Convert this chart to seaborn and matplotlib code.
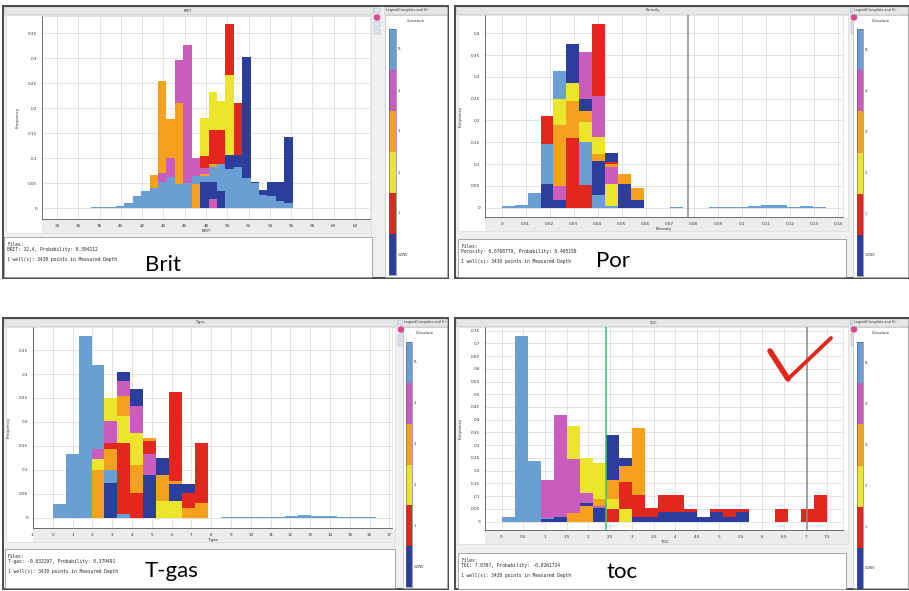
import numpy as np
import pandas as pd
import matplotlib
matplotlib.use("Agg")
import matplotlib.pyplot as plt
import seaborn as sb
from matplotlib.patches import Rectangle
from matplotlib.ticker import AutoMinorLocator, FuncFormatter

sb.set_style("white")
plt.rcParams["font.family"] = ["DejaVu Sans"]

# ---- classes (Curvature legend, bottom to top)
classes = ["CONV", "1", "2", "3", "4", "PL"]
colors = ["#2c3e9c", "#e2271f", "#ece52b", "#f5a11d", "#c95cbd", "#6a9fd3"]

# ---- BRIT (25 bins)
brit_edges = np.linspace(36.37, 56.15, 26)
brit_conv = [0, 0, 0, 0, 0, 0, 0, 0, 0, 0, 0, 0, 0, 0, .053, .053, .035, .107, .107, .303, .053, .036, .053, .053, .143]
brit_1 = [0, 0, 0, 0, 0, 0, 0, 0, 0, 0, 0, 0, 0, 0, .105, .157, .157, .368, .21, 0, 0, 0, 0, 0, 0]
brit_2 = [0, 0, 0, 0, 0, 0, 0, 0, 0, 0, 0, 0, 0, 0, .18, .232, .215, .267, 0, 0, 0, 0, 0, 0, 0]
brit_3 = [0, 0, 0, 0, 0, 0, 0, 0, .067, .255, .178, .211, 0, .048, .068, .088, 0, 0, 0, 0, 0, 0, 0, 0, 0]
brit_4 = [0, 0, 0, 0, 0, 0, 0, 0, 0, .071, .101, .296, .327, .101, .08, .018, 0, 0, 0, 0, 0, 0, 0, 0, 0]
brit_pl = [.001, .002, .002, .003, .005, .01, .025, .035, .04, .053, .063, .049, .05, .065, .065, .082, .088, .079, .083, .061, .05, .026, .025, .015, .01]

# ---- Porosity (25 bins)
por_edges = np.linspace(0, 0.135, 26)
por_conv = [0, 0, 0, .054, .017, .376, .25, .107, .126, .054, .017, 0, 0, 0, 0, 0, 0, 0, 0, 0, 0, 0, 0, 0, 0]
por_1 = [0, 0, 0, .211, 0, .159, .053, .421, .104, 0, 0, 0, 0, 0, 0, 0, 0, 0, 0, 0, 0, 0, 0, 0, 0]
por_2 = [0, 0, 0, 0, .25, .287, .197, .161, .054, 0, 0, 0, 0, 0, 0, 0, 0, 0, 0, 0, 0, 0, 0, 0, 0]
por_3 = [0, 0, 0, 0, .189, .245, .221, .122, .1, .078, .044, 0, 0, 0, 0, 0, 0, 0, 0, 0, 0, 0, 0, 0, 0]
por_4 = [0, 0, 0, 0, .05, 0, .356, .256, .094, 0, 0, 0, 0, 0, 0, 0, 0, 0, 0, 0, 0, 0, 0, 0, 0]
por_pl = [.004, .005, .034, .147, .314, 0, .151, .028, .003, 0, 0, 0, 0, .001, 0, 0, .0005, .001, .002, .003, .007, .005, .002, .004, .002]

# ---- T-gas (25 bins)
tgas_edges = np.linspace(0, 16.3, 26)
tgas_conv = [0, 0, 0, 0, .072, .304, .268, .089, .125, .071, .071, 0, 0, 0, 0, 0, 0, 0, 0, 0, 0, 0, 0, 0, 0]
tgas_1 = [0, 0, 0, 0, .157, .157, .052, .161, 0, .263, .051, .157, 0, 0, 0, 0, 0, 0, 0, 0, 0, 0, 0, 0, 0]
tgas_2 = [0, 0, 0, .123, .251, .213, .178, 0, .035, .035, 0, 0, 0, 0, 0, 0, 0, 0, 0, 0, 0, 0, 0, 0, 0]
tgas_3 = [0, 0, 0, .099, .144, .255, .111, .166, .089, .076, .021, .031, 0, 0, 0, 0, 0, 0, 0, 0, 0, 0, 0, 0, 0]
tgas_4 = [0, 0, 0, .143, .203, .286, .234, .133, 0, 0, 0, 0, 0, 0, 0, 0, 0, 0, 0, 0, 0, 0, 0, 0, 0]
tgas_pl = [.029, .133, .38, .319, .1, .009, 0, 0, 0, 0, 0, 0, 0, .001, .001, .001, .002, .002, .004, .006, .004, .003, .002, .001, .001]

# ---- TOC (25 bins)
toc_edges = np.linspace(0, 7.5, 26)
toc_conv = [0, 0, 0, .01, .017, 0, .072, .054, .34, .251, .017, .017, .037, .037, .037, .017, .037, .017, .037, 0, 0, 0, 0, 0, 0]
toc_1 = [0, 0, 0, 0, 0, 0, 0, 0, .05, .157, .105, .055, .105, .105, .05, 0, .05, .05, .05, 0, 0, .05, 0, .05, .105]
toc_2 = [0, 0, 0, 0, 0, .376, .251, .232, .087, .05, 0, 0, 0, 0, 0, 0, 0, 0, 0, 0, 0, 0, 0, 0, 0]
toc_3 = [0, 0, 0, 0, 0, .033, .063, .087, .163, .22, .366, 0, 0, 0, 0, 0, 0, 0, 0, 0, 0, 0, 0, 0, 0]
toc_4 = [0, 0, 0, .162, .418, .244, .111, .061, 0, 0, 0, 0, 0, 0, 0, 0, 0, 0, 0, 0, 0, 0, 0, 0, 0]
toc_pl = [.02, .729, .238, .013, 0, 0, 0, 0, 0, 0, 0, 0, 0, 0, 0, 0, 0, 0, 0, 0, 0, 0, 0, 0, 0]

W, H = 909, 591
fig = plt.figure(figsize=(W / 100, H / 100), dpi=100)
bg = fig.add_axes([0, 0, 1, 1])
bg.set_xlim(0, W)
bg.set_ylim(H, 0)
bg.axis("off")
bg.set_zorder(0)

mono = "DejaVu Sans Mono"


def rect(x0, y0, x1, y1, fc="none", ec="none", lw=0.6, z=1):
    bg.add_patch(Rectangle((x0, y0), x1 - x0, y1 - y0, facecolor=fc, edgecolor=ec, linewidth=lw, zorder=z))


def fmt(v, pos):
    return "%g" % round(v, 4)


panels = [
    dict(edges=brit_edges, series=[brit_conv, brit_1, brit_2, brit_3, brit_4, brit_pl],
         frame=(3, 6, 448, 278), hright=373, title="BRIT", axes=(42, 16, 370, 219),
         xlim=(32.59, 63.41), ylim=(-0.022, 0.385), xticks=np.arange(34, 63, 2), yticks=np.arange(0, 0.36, 0.05),
         info=(4, 237, 372, 277), lines=["Files:", "BRIT: 32.4, Probability: 0.394212", "1 well(s): 3430 points in Measured Depth"],
         big=("Brit", 163, 265), legend=(384, 448), cbar=(389, 396, 29, 275), vlines=[]),
    dict(edges=por_edges, series=[por_conv, por_1, por_2, por_3, por_4, por_pl],
         frame=(455, 6, 909, 278), hright=850, title="Porosity", axes=(485, 15, 843, 217),
         xlim=(-0.0069, 0.1421), ylim=(-0.0215, 0.442), xticks=np.arange(0, 0.141, 0.01), yticks=np.arange(0, 0.41, 0.05),
         info=(458, 239, 846, 277), lines=["Files:", "Porosity: 0.0768779, Probability: 0.405159", "1 well(s): 3430 points in Measured Depth"],
         big=("Por", 613, 261), legend=(852, 909), cbar=(857, 863, 29, 276), vlines=[(0.0776, "#8a8a8a")]),
    dict(edges=tgas_edges, series=[tgas_conv, tgas_1, tgas_2, tgas_3, tgas_4, tgas_pl],
         frame=(3, 318, 448, 589), hright=397, title="T-gas", axes=(33, 327, 392, 528),
         xlim=(-0.8, 17.13), ylim=(-0.021, 0.398), xticks=np.arange(-1, 18, 1), yticks=np.arange(0, 0.36, 0.05),
         info=(5, 549, 395, 588), lines=["Files:", "T-gas: -0.032297, Probability: 0.379491", "1 well(s): 3430 points in Measured Depth"],
         big=("T-gas", 172, 571), legend=(402, 448), cbar=(406, 412, 342, 587), vlines=[]),
    dict(edges=toc_edges, series=[toc_conv, toc_1, toc_2, toc_3, toc_4, toc_pl],
         frame=(455, 318, 909, 589), hright=850, title="TOC", axes=(485, 327, 843, 530),
         xlim=(-0.38, 7.86), ylim=(-0.033, 0.764), xticks=np.arange(0, 7.6, 0.5), yticks=np.arange(0, 0.76, 0.05),
         info=(458, 553, 846, 589), lines=["Files:", "TOC: 7.0397, Probability: -0.0261724", "1 well(s): 3430 points in Measured Depth"],
         big=("toc", 622, 572), legend=(852, 909), cbar=(857, 863, 342, 589), vlines=[(2.4, "#3cc46a"), (7.04, "#8a8a8a")]),
]

for p in panels:
    fx0, fy0, fx1, fy1 = p["frame"]
    # window chrome
    rect(fx0, fy0, fx1, fy1, fc="#f0f0f0", ec="#4a4a4a", lw=1.4, z=1)
    rect(fx0 + 1, fy0 + 1, p["hright"], fy0 + 8, fc="#e6e6e6", ec="#c8c8c8", lw=0.4, z=2)
    bg.text((fx0 + p["hright"]) / 2, fy0 + 4.5, p["title"], fontsize=2.6, ha="center", va="center", color="#333333", zorder=3)
    ax0, ay0, ax1, ay1 = p["axes"]
    rect(fx0 + 3, fy0 + 9, p["hright"] - 2, ay1 + 14, fc="white", ec="#d0d0d0", lw=0.4, z=2)
    rect(ax0, ay1 + 1, p["hright"] - 2, ay1 + 14, fc="#ececec", z=2)
    # toolbar icons
    tx = p["hright"] + 1
    for k in range(4):
        rect(tx, fy0 + 2 + k * 7, tx + 6, fy0 + 7 + k * 7, fc="#dfe6ee", ec="#9aa4b0", lw=0.3, z=2)
    bg.add_patch(plt.Circle((tx + 3, fy0 + 11.5), 2.5, color="#e04a8a", zorder=3))
    # info box
    ix0, iy0, ix1, iy1 = p["info"]
    rect(ix0, iy0, ix1, iy1, fc="white", ec="#9a9a9a", lw=0.6, z=2)
    bg.text(ix0 + 3, iy0 + 8, p["lines"][0], fontsize=3.3, family=mono, va="center", zorder=3)
    bg.text(ix0 + 3, iy0 + 12.5, p["lines"][1], fontsize=3.3, family=mono, va="center", zorder=3)
    bg.text(ix0 + 3, iy0 + 22, p["lines"][2], fontsize=3.3, family=mono, va="center", zorder=3)
    bt, bx, by = p["big"]
    bg.text(bx, by, bt, fontsize=16, family="Lato", ha="center", va="center", color="black", zorder=3)
    # legend window
    lx0, lx1 = p["legend"]
    rect(lx0, fy0 + 1, lx1 - 1, fy0 + 8, fc="#e6e6e6", ec="#c8c8c8", lw=0.4, z=2)
    bg.text(lx0 + 2, fy0 + 4.5, "LegendCrossplots and Hi\u00b7\u00b7", fontsize=2.4, va="center", color="#333333", zorder=3, clip_on=True)
    rect(lx0 + 1, fy0 + 9, lx1 - 1, fy1 - 1, fc="white", ec="#b0b0b0", lw=0.4, z=2)
    bg.text((lx0 + lx1) / 2, fy0 + 15, "Curvature", fontsize=2.6, ha="center", va="center", color="#333333", zorder=3)
    cx0, cx1, cy0, cy1 = p["cbar"]
    seg = (cy1 - cy0) / len(classes)
    for k, (c, lab) in enumerate(zip(colors[::-1], classes[::-1])):
        rect(cx0, cy0 + k * seg, cx1, cy0 + (k + 1) * seg, fc=c, z=3)
        bg.text(cx1 + 2, cy0 + (k + 0.5) * seg, lab, fontsize=2.6, va="center", color="#333333", zorder=3)
    rect(cx0, cy0, cx1, cy1, ec="#556070", lw=0.4, z=4)

    # histogram axes
    ax = fig.add_axes([ax0 / W, 1 - ay1 / H, (ax1 - ax0) / W, (ay1 - ay0) / H])
    ax.set_zorder(5)
    edges = [float(e) for e in p["edges"]]
    centers = [(a + b) / 2 for a, b in zip(edges[:-1], edges[1:])]
    rows = []
    for cls, vals in zip(classes, p["series"]):
        for c, v in zip(centers, vals):
            rows.append((c, cls, v))
    df = pd.DataFrame(rows, columns=["x", "cls", "freq"])
    sb.histplot(data=df, x="x", weights="freq", hue="cls", hue_order=classes, palette=colors,
                bins=edges, multiple="layer", alpha=1, linewidth=0, legend=False, ax=ax)
    # each class is overlaid; the shorter bar of a bin sits in front
    for patch in ax.patches:
        patch.set_zorder(3 - patch.get_height())
    for xv, col in p["vlines"]:
        ax.axvline(xv, color=col, lw=1.1, zorder=6)
    ax.set_xlim(*p["xlim"])
    ax.set_ylim(*p["ylim"])
    ax.set_xticks(p["xticks"])
    ax.set_yticks(p["yticks"])
    ax.xaxis.set_major_formatter(FuncFormatter(fmt))
    ax.yaxis.set_major_formatter(FuncFormatter(fmt))
    ax.xaxis.set_minor_locator(AutoMinorLocator(10))
    ax.yaxis.set_minor_locator(AutoMinorLocator(10))
    ax.grid(True, which="major", color="#d9d9d9", lw=0.5)
    ax.set_axisbelow(True)
    ax.tick_params(which="major", labelsize=3, length=2, width=0.4, pad=1.5, colors="#333333")
    ax.tick_params(which="minor", length=1, width=0.3, colors="#555555")
    for s in ["top", "right"]:
        ax.spines[s].set_color("#cfcfcf")
        ax.spines[s].set_linewidth(0.4)
    for s in ["left", "bottom"]:
        ax.spines[s].set_color("#555555")
        ax.spines[s].set_linewidth(0.6)
    ax.set_xlabel(p["title"], fontsize=3, labelpad=1, color="#333333")
    ax.set_ylabel("Frequency", fontsize=3, labelpad=6, color="#333333")

# red check mark drawn on top of the TOC screenshot
chk = fig.add_axes([0, 0, 1, 1], facecolor="none")
chk.set_xlim(0, W)
chk.set_ylim(H, 0)
chk.axis("off")
chk.set_zorder(20)
chk.plot([770, 788], [351, 379], color="#e2271f", lw=4.0, solid_capstyle="round")
chk.plot([788, 831], [379, 338], color="#e2271f", lw=2.8, solid_capstyle="round")

fig.savefig("out.png", dpi=100, facecolor="white")
